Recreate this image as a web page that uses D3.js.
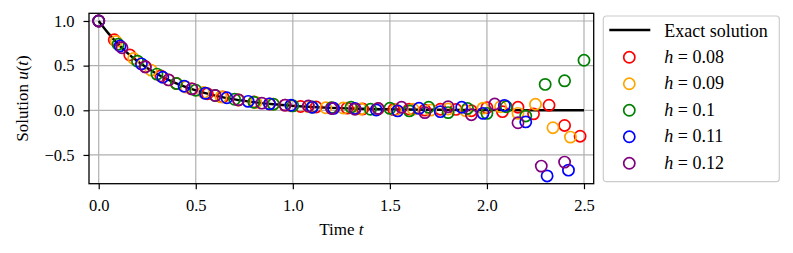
<!DOCTYPE html>
<html>
<head>
<meta charset="utf-8">
<script src="https://cdn.jsdelivr.net/npm/d3@7"></script>
<style>
  body { margin: 0; background: #fff; }
  text { font-family: "Liberation Serif", "DejaVu Serif", serif; }
</style>
</head>
<body>
<div id="chart-area"></div>
<script>
// DATA
const xTicks = [0, 0.5, 1.0, 1.5, 2.0, 2.5]
const yTicks = [-0.5, 0, 0.5, 1.0]

const exactT = [0, 0.05, 0.1, 0.15, 0.2, 0.3, 0.4, 0.5, 0.6, 0.7, 0.8, 0.9, 1.0, 1.1, 1.2, 1.3, 1.4, 1.5, 1.6, 1.7, 1.8, 1.9, 2.0, 2.2, 2.4, 2.5]
const exactU = [1, 0.861, 0.741, 0.638, 0.549, 0.407, 0.301, 0.223, 0.165, 0.122, 0.091, 0.067, 0.050, 0.037, 0.027, 0.020, 0.015, 0.011, 0.008, 0.006, 0.005, 0.003, 0.002, 0.001, 0.001, 0.001]

const stepSizes = [0.08, 0.09, 0.1, 0.11, 0.12]
const seriesLabels = ["0.08", "0.09", "0.1", "0.11", "0.12"]
const seriesColors = ["#ff0000", "#ffa500", "#008000", "#0000ff", "#800080"]

const u008 = [1.0, 0.79, 0.62, 0.49, 0.385, 0.30, 0.24, 0.185, 0.15, 0.115, 0.093, 0.07, 0.058, 0.042, 0.037, 0.025,
              0.024, 0.014, 0.017, 0.008, 0.013, 0.002, 0.012, 0.01, -0.005, 0.03, -0.015, 0.034, -0.04, 0.057, -0.17, -0.29]
const u009 = [1.0, 0.77, 0.58, 0.45, 0.34, 0.26, 0.20, 0.15, 0.117, 0.087, 0.069, 0.05, 0.041, 0.028, 0.025, 0.015,
              0.016, 0.007, 0.012, 0.002, 0.014, -0.005, 0.024, 0.04, -0.034, 0.067, -0.195, -0.30]
const u010 = [1.0, 0.74, 0.55, 0.405, 0.30, 0.225, 0.165, 0.123, 0.09, 0.068, 0.05, 0.036, 0.03, 0.034, 0.011, 0.022,
              -0.007, 0.034, -0.026, 0.02, -0.034, 0.04, -0.064, 0.29, 0.33, 0.56]
const u011 = [1.0, 0.72, 0.52, 0.37, 0.27, 0.19, 0.14, 0.10, 0.072, 0.056, 0.034, 0.022, 0.02, 0.004, -0.007, 0.022,
              -0.015, 0.034, -0.034, 0.055, -0.13, -0.735, -0.67]
const u012 = [1.0, 0.70, 0.485, 0.34, 0.24, 0.165, 0.117, 0.08, 0.058, 0.048, 0.02, 0.011, 0.02, 0.034, -0.026, 0.04,
              -0.05, 0.07, -0.14, -0.625, -0.58]
const seriesValues = [u008, u009, u010, u011, u012]

// SET MARGIN / DIMENSIONS
const MARGIN = {LEFT: 89, TOP: 13.3, RIGHT: 199.3, BOTTOM: 69.3}
const WIDTH = 793 - MARGIN.LEFT - MARGIN.RIGHT
const HEIGHT = 253 - MARGIN.TOP - MARGIN.BOTTOM

const svg = d3.select("#chart-area").append("svg")
    .attr("width", 793)
    .attr("height", 253)

const g = svg.append("g")
    .attr("transform", `translate(${MARGIN.LEFT}, ${MARGIN.TOP})`)

// --- scales
const x = d3.scaleLinear().domain([-0.05, 2.55]).range([0, WIDTH])
const y = d3.scaleLinear().domain([-0.822, 1.086]).range([HEIGHT, 0])

// --- grid
g.append("g").selectAll("line")
    .data(xTicks).enter().append("line")
    .attr("x1", d => x(d)).attr("x2", d => x(d))
    .attr("y1", 0).attr("y2", HEIGHT)
    .attr("stroke", "#b0b0b0").attr("stroke-width", 1.2)
g.append("g").selectAll("line")
    .data(yTicks).enter().append("line")
    .attr("x1", 0).attr("x2", WIDTH)
    .attr("y1", d => y(d)).attr("y2", d => y(d))
    .attr("stroke", "#b0b0b0").attr("stroke-width", 1.2)

// --- exact solution
const line = d3.line()
    .x((d, i) => x(exactT[i]))
    .y(d => y(d))
    .curve(d3.curveMonotoneX)
g.append("path")
    .datum(exactU)
    .attr("d", line)
    .attr("fill", "none")
    .attr("stroke", "#000")
    .attr("stroke-width", 2.4)

// --- numerical solutions (t = n*h)
seriesValues.forEach((vals, k) => {
    g.append("g").selectAll("circle")
        .data(vals).enter().append("circle")
        .attr("cx", (d, i) => x(i * stepSizes[k]))
        .attr("cy", d => y(d))
        .attr("r", 5.6)
        .attr("fill", "none")
        .attr("stroke", seriesColors[k])
        .attr("stroke-width", 1.7)
})

// --- frame
g.append("rect")
    .attr("width", WIDTH).attr("height", HEIGHT)
    .attr("fill", "none").attr("stroke", "#000").attr("stroke-width", 1.3)

// --- axes
const xAxisCall = d3.axisBottom(x)
    .tickValues(xTicks).tickSize(5.5).tickPadding(10)
    .tickFormat(d3.format(".1f"))
const xAxis = g.append("g")
    .attr("transform", `translate(0, ${HEIGHT})`)
    .call(xAxisCall)
const yAxisCall = d3.axisLeft(y)
    .tickValues(yTicks).tickSize(5.5).tickPadding(9)
    .tickFormat(d3.format(".1f"))
const yAxis = g.append("g").call(yAxisCall)
;[xAxis, yAxis].forEach(a => {
    a.select(".domain").remove()
    a.selectAll("line").attr("stroke", "#000").attr("stroke-width", 1.2)
    a.selectAll("text").attr("font-size", "16.5px").attr("fill", "#000")
        .attr("font-family", "Liberation Serif, serif")
})

// --- axis labels
const xl = g.append("text")
    .attr("x", WIDTH / 2)
    .attr("y", HEIGHT + 51)
    .attr("font-size", "17px")
    .attr("text-anchor", "middle")
xl.append("tspan").text("Time ")
xl.append("tspan").attr("font-style", "italic").text("t")

const yl = g.append("text")
    .attr("x", -HEIGHT / 2)
    .attr("y", -61)
    .attr("font-size", "17px")
    .attr("text-anchor", "middle")
    .attr("transform", "rotate(-90)")
yl.append("tspan").text("Solution ")
yl.append("tspan").attr("font-style", "italic").text("u")
yl.append("tspan").text("(")
yl.append("tspan").attr("font-style", "italic").text("t")
yl.append("tspan").text(")")

// --- legend
const legend = svg.append("g").attr("transform", "translate(603.3, 16)")
legend.append("rect")
    .attr("width", 176).attr("height", 165.7)
    .attr("rx", 3).attr("fill", "#fff")
    .attr("stroke", "#cccccc").attr("stroke-width", 1.2)
legend.append("line")
    .attr("x1", 6).attr("x2", 47).attr("y1", 14).attr("y2", 14)
    .attr("stroke", "#000").attr("stroke-width", 2.4)
legend.append("text")
    .attr("x", 61).attr("y", 20.5)
    .attr("font-size", "18px")
    .text("Exact solution")
const items = legend.selectAll(".item")
    .data(seriesLabels).enter().append("g")
    .attr("class", "item")
    .attr("transform", (d, i) => `translate(0, ${41.3 + i * 26.5})`)
items.append("circle")
    .attr("cx", 26).attr("cy", 0).attr("r", 5.6)
    .attr("fill", "none")
    .attr("stroke", (d, i) => seriesColors[i])
    .attr("stroke-width", 1.7)
const lt = items.append("text")
    .attr("x", 61).attr("y", 5.5)
    .attr("font-size", "18px")
lt.append("tspan").attr("font-style", "italic").text("h")
lt.append("tspan").text(" = ")
lt.append("tspan").text(d => d)
</script>
</body>
</html>
